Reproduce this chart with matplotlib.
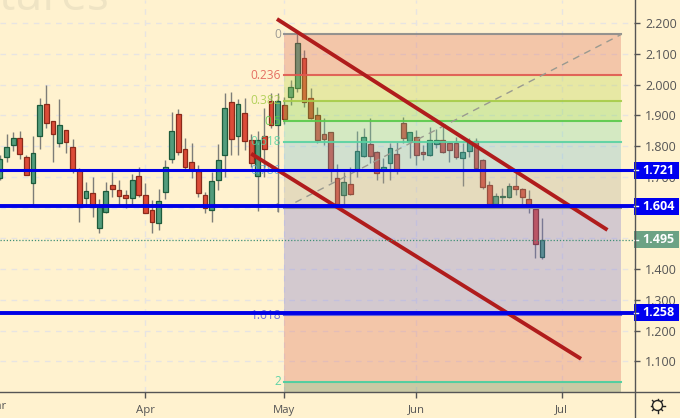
#! python3
# Weekly-style candle chart with fib levels and channel lines

import matplotlib
matplotlib.use('Agg')
import matplotlib.pyplot as plt
from matplotlib.patches import Rectangle, Circle
from matplotlib.transforms import blended_transform_factory

plt.rcParams['font.family'] = ['Open Sans', 'DejaVu Sans']

opens = [1.695, 1.763, 1.804, 1.827, 1.765, 1.679, 1.834, 1.938, 1.881, 1.809,
         1.853, 1.796, 1.722, 1.630, 1.646, 1.532, 1.586, 1.672, 1.656, 1.640,
         1.630, 1.701, 1.642, 1.591, 1.549, 1.649, 1.759, 1.905, 1.791, 1.749,
         1.719, 1.640, 1.592, 1.688, 1.772, 1.943, 1.834, 1.908, 1.818, 1.701,
         1.833, 1.945, 1.869, 1.934, 1.958, 1.988, 2.086, 1.957, 1.902, 1.838,
         1.847, 1.695, 1.642, 1.675, 1.722, 1.769, 1.806, 1.780, 1.722, 1.746,
         1.773, 1.876, 1.816, 1.830, 1.780, 1.772, 1.808, 1.821, 1.809, 1.809,
         1.762, 1.785, 1.817, 1.753, 1.672, 1.613, 1.635, 1.635, 1.669, 1.660,
         1.627, 1.594, 1.438]
closes = [1.758, 1.798, 1.827, 1.773, 1.707, 1.778, 1.933, 1.876, 1.840, 1.869,
          1.814, 1.724, 1.603, 1.653, 1.603, 1.603, 1.653, 1.659, 1.636, 1.632,
          1.688, 1.640, 1.583, 1.552, 1.620, 1.731, 1.850, 1.782, 1.733, 1.722,
          1.648, 1.597, 1.685, 1.753, 1.925, 1.822, 1.938, 1.815, 1.746, 1.818,
          1.791, 1.869, 1.945, 1.889, 1.993, 2.136, 1.942, 1.891, 1.821, 1.823,
          1.722, 1.611, 1.682, 1.645, 1.783, 1.830, 1.769, 1.711, 1.731, 1.792,
          1.722, 1.827, 1.847, 1.772, 1.775, 1.821, 1.821, 1.782, 1.788, 1.765,
          1.780, 1.814, 1.730, 1.668, 1.613, 1.636, 1.637, 1.669, 1.661, 1.635,
          1.607, 1.480, 1.493]
highs = [1.771, 1.839, 1.847, 1.849, 1.771, 1.832, 1.957, 2.000, 1.881, 1.952,
         1.853, 1.822, 1.727, 1.684, 1.698, 1.627, 1.684, 1.717, 1.689, 1.657,
         1.709, 1.731, 1.679, 1.624, 1.659, 1.755, 1.912, 1.919, 1.825, 1.811,
         1.738, 1.651, 1.717, 1.806, 1.971, 1.975, 1.952, 1.957, 1.839, 1.850,
         1.922, 1.971, 1.971, 1.960, 2.015, 2.166, 2.112, 1.990, 1.928, 1.890,
         1.847, 1.742, 1.717, 1.733, 1.850, 1.858, 1.890, 1.785, 1.760, 1.811,
         1.814, 1.895, 1.847, 1.852, 1.803, 1.861, 1.854, 1.865, 1.814, 1.828,
         1.809, 1.825, 1.825, 1.757, 1.685, 1.646, 1.662, 1.681, 1.711, 1.665,
         1.657, 1.596, 1.565]
lows = [1.690, 1.749, 1.785, 1.757, 1.706, 1.608, 1.790, 1.857, 1.749, 1.796,
        1.778, 1.711, 1.554, 1.603, 1.570, 1.516, 1.583, 1.635, 1.606, 1.597,
        1.611, 1.635, 1.581, 1.518, 1.527, 1.628, 1.746, 1.771, 1.720, 1.697,
        1.633, 1.583, 1.554, 1.657, 1.700, 1.771, 1.771, 1.787, 1.733, 1.590,
        1.700, 1.857, 1.586, 1.872, 1.933, 1.977, 1.926, 1.887, 1.809, 1.803,
        1.684, 1.611, 1.608, 1.641, 1.700, 1.763, 1.744, 1.690, 1.679, 1.690,
        1.709, 1.809, 1.762, 1.738, 1.754, 1.769, 1.792, 1.776, 1.749, 1.757,
        1.671, 1.763, 1.725, 1.659, 1.611, 1.611, 1.608, 1.630, 1.641, 1.611,
        1.583, 1.437, 1.431]

fib_ratio = [0, 0.236, 0.382, 0.5, 0.618, 0.786, 1, 1.618, 2]
fib_text = ['0', '0.236', '0.382', '0.5', '0.618', '0.786', '1', '1.618', '2']
fib_line = ['#8a8a8a', '#e0584f', '#a6cc48', '#58c94a', '#58d2a2', '#5aa8dc', '#8a8a8a', '#5a5ad8', '#45cfa0']
fib_fill = ['#da6354', '#b2d143', '#73d443', '#73d7a7', '#69b9d2', '#aca996', '#706dd2', '#da6354', '#4e6d43']
fib_top = 2.163
fib_span = 0.565
fib_start = 43
fib_end = 94

level_values = [1.721, 1.604, 1.258]
level_widths = [2.2, 2.8, 2.8]
last_price = 1.495

channel_x = [[41.9, 91.9], [38.0, 87.9]]
channel_y = [[2.213, 1.527], [1.775, 1.108]]

month_pos = [22, 43, 63, 85]
month_names = ['Apr', 'May', 'Jun', 'Jul']
price_ticks = [1.1, 1.2, 1.3, 1.4, 1.5, 1.6, 1.7, 1.8, 1.9, 2.0, 2.1, 2.2]

BG = '#fff2cf'
W, H = 680, 418
PLOT_W, PLOT_H = 634, 392

fig = plt.figure(figsize=(W / 100, H / 100), dpi=100, facecolor=BG)
ax = fig.add_axes([0, (H - PLOT_H) / H, PLOT_W / W, PLOT_H / H], facecolor=BG)
ax.set_xlim(0, PLOT_W / 6.61)
ax.set_ylim(1.0, 2.2748)

# watermark, cut off by the top edge
ax.text(-0.3, 2.2415, 'tures', fontsize=33, color='#efe4c4', va='baseline', ha='left', zorder=0.5)

# grid
for p in price_ticks:
    ax.axhline(p, color='#e7e4e2', lw=1, ls=(0, (4, 4)), zorder=1)
for m in month_pos:
    ax.axvline(m, color='#e7e4e2', lw=1, ls=(0, (4, 4)), zorder=1)

# candles
for i in range(len(opens)):
    up = closes[i] >= opens[i]
    face = '#529c7c' if up else '#dc4c38'
    edge = '#1d5b3c' if up else '#8a2a1a'
    ax.plot([i, i], [lows[i], highs[i]], color='#7d7d78', lw=1, zorder=2, solid_capstyle='butt')
    bot = min(opens[i], closes[i])
    ax.add_patch(Rectangle((i - 0.36, bot), 0.72, abs(closes[i] - opens[i]), facecolor=face,
                           edgecolor=edge, lw=0.9, zorder=3))

# fib zones
levels = [fib_top - r * fib_span for r in fib_ratio]
for k in range(len(levels)):
    lower = levels[k + 1] if k + 1 < len(levels) else 1.0
    ax.add_patch(Rectangle((fib_start, lower), fib_end - fib_start, levels[k] - lower,
                           facecolor=fib_fill[k], edgecolor='none', alpha=0.3, zorder=4))
    ax.plot([fib_start, fib_end], [levels[k], levels[k]], color=fib_line[k], lw=1.5, zorder=5, alpha=0.9)
    ax.text(fib_start - 0.45, levels[k], fib_text[k], color=fib_line[k], fontsize=8.6, ha='right',
            va='center', zorder=5, alpha=0.85)

ax.plot([fib_start, fib_end], [levels[6], levels[0]], color='#9a9a90', lw=1, ls=(0, (5, 4)), zorder=5)

# channel lines
for cx, cy in zip(channel_x, channel_y):
    ax.plot(cx, cy, color='#b01c1c', lw=2.8, zorder=6, solid_capstyle='butt')

# horizontal levels + last price
ax.axhline(last_price, color='#3f8f76', lw=0.9, ls=(0, (1, 1.5)), zorder=6)
for v, lw in zip(level_values, level_widths):
    ax.axhline(v, color='#0000e6', lw=lw, zorder=7)

# axes
for s in ax.spines.values():
    s.set_visible(False)
ax.yaxis.tick_right()
ax.set_yticks(price_ticks)
ax.set_yticklabels(['%.3f' % p for p in price_ticks])
ax.tick_params(axis='y', length=4, width=1, color='#555555', labelsize=9, labelcolor='#555555', pad=4)
ax.set_xticks(month_pos)
ax.set_xticklabels(month_names)
ax.tick_params(axis='x', length=4, width=1, color='#555555', labelsize=8.2, labelcolor='#555555', pad=5)
ax.text(-0.5, 0.97, 'Mar', color='#555555', fontsize=8.2, ha='center', va='top', clip_on=False)

# price labels
tr = blended_transform_factory(ax.transAxes, ax.transData)
box_w = 45 / PLOT_W
box_h = 17 / 307.5
for v, col in zip(level_values + [last_price], ['#0000f0'] * 3 + ['#6ca284']):
    ax.add_patch(Rectangle((1, v - box_h / 2), box_w, box_h, transform=tr, facecolor=col,
                           edgecolor='none', clip_on=False, zorder=8))
    ax.plot([1, 1 + 4 / PLOT_W], [v, v], transform=tr, color='white', lw=1, clip_on=False, zorder=9)
    ax.text(1 + 8 / PLOT_W, v, '%.3f' % v, transform=tr, color='white', fontsize=9, fontweight='bold',
            ha='left', va='center', clip_on=False, zorder=9)

# axis frame and gear, in pixel coordinates
over = fig.add_axes([0, 0, 1, 1], facecolor='none')
over.set_xlim(0, W)
over.set_ylim(H, 0)
over.axis('off')
over.plot([634.5, 634.5], [0, H], color='#555555', lw=1)
over.plot([0, W], [392, 392], color='#555555', lw=1)
over.add_patch(Circle((657.5, 405.5), 5, facecolor='none', edgecolor='#222222', lw=1))
for dx, dy in [(0, -7), (0, 7), (-7, 0), (7, 0), (-5, -5), (5, -5), (-5, 5), (5, 5)]:
    over.plot([657.5 + dx * 0.8, 657.5 + dx], [405.5 + dy * 0.8, 405.5 + dy], color='#222222', lw=1)

fig.savefig('out.png', dpi=100, facecolor=BG)
